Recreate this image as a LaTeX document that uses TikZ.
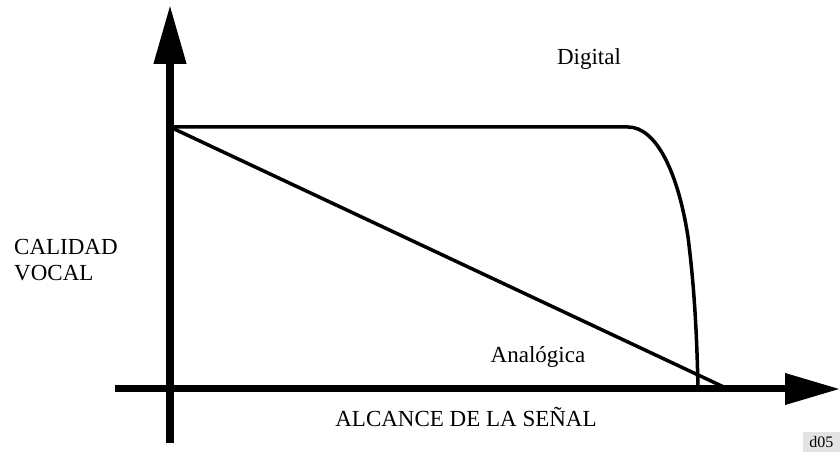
\documentclass[tikz,border=0pt]{standalone}
\usepackage{fontspec}
\setmainfont{Liberation Serif}
\usetikzlibrary{arrows.meta}

\begin{document}
\begin{tikzpicture}[x=1pt,y=1pt,every node/.style={inner sep=0pt,font=\fontsize{23}{26}\selectfont},
    axis/.style={line width=7.5pt},curve/.style={line width=3.5pt,line join=round}]
      \useasboundingbox (0,0) rectangle (840,452);
      \coordinate (vbot) at (170,9);
      \coordinate (vtop) at (170,447);
      \coordinate (hleft) at (115,63);
      \coordinate (hright) at (840,63);
      \coordinate (start) at (170,325);
      \coordinate (knee) at (628,325);
      \coordinate (bend) at (688,215);
      \coordinate (dend) at (698,63);
      \coordinate (aend) at (728,63);
      \draw[axis,-{Triangle[length=59pt,width=31pt]}] (vbot) -- (vtop);
      \draw[axis,line width=7pt,-{Triangle[length=55pt,width=30pt]}] (hleft) -- (hright);
      \draw[curve] (start) -- (knee) .. controls (656,325) and (678,280) .. (bend)
        .. controls (695,160) and (697,110) .. (dend);
      \draw[curve] (start) -- (aend);
      \node[anchor=base] (digital) at (589,387) {Digital};
      \node[anchor=base] (analog) at (538,89) {Analógica};
      \node[anchor=base] (xlabel) at (466,25) {ALCANCE DE LA SEÑAL};
      \node[anchor=west,align=left] (ylabel) at (14,192) {CALIDAD\\VOCAL};
      \node[fill=gray!22,minimum width=37pt,minimum height=20pt,anchor=south east,
        font=\fontsize{16}{18}\selectfont] (tag) at (840,0) {d05};
\end{tikzpicture}
\end{document}
